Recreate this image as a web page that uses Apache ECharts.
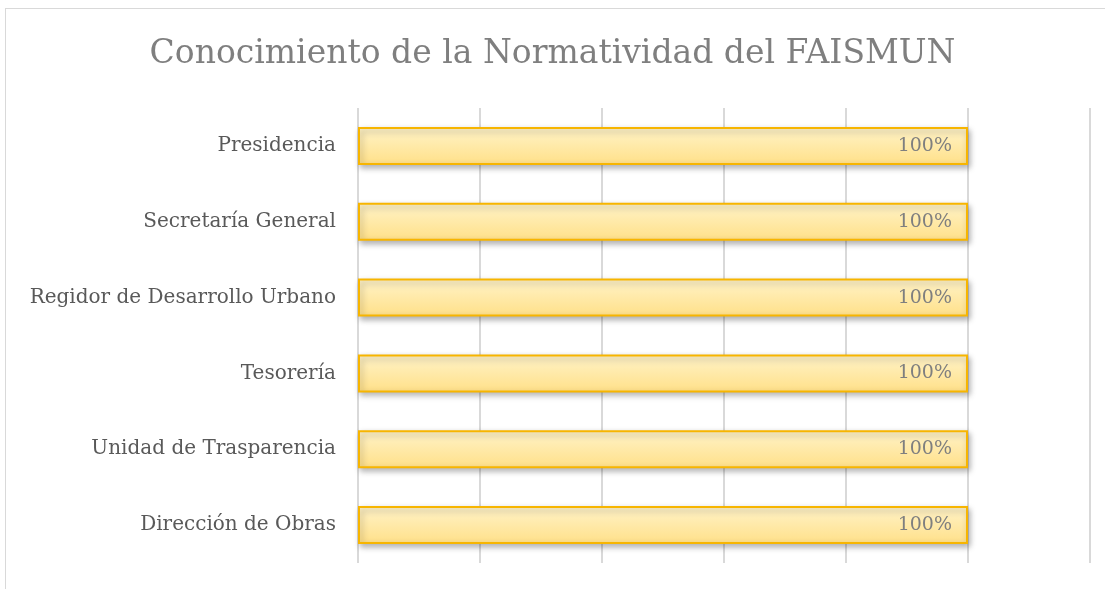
<!DOCTYPE html>
<html>
<head>
<meta charset="utf-8">
<script src="https://cdn.jsdelivr.net/npm/echarts@6/dist/echarts.min.js"></script>
<style>
  html, body { margin: 0; padding: 0; background: #fff; }
  #frame { position: absolute; left: 5px; top: 8px; width: 1110px; height: 585px; border: 1.5px solid #d9d9d9; box-sizing: border-box; }
  #chart { width: 1105px; height: 589px; }
</style>
</head>
<body>
<div id="frame"></div>
<div id="chart"></div>
<script>
// datos
const categories = ['Presidencia', 'Secretaría General', 'Regidor de Desarrollo Urbano', 'Tesorería', 'Unidad de Trasparencia', 'Dirección de Obras'];
const values = [1, 1, 1, 1, 1, 1];

const serif = 'Constantia, "DejaVu Serif", serif';

const chart = echarts.init(document.getElementById('chart'));
chart.setOption({
  animation: false,
  textStyle: { fontFamily: serif },
  title: {
    text: 'Conocimiento de la Normatividad del FAISMUN',
    left: 'center',
    top: 33,
    textStyle: { fontFamily: serif, fontSize: 33, fontWeight: 'normal', color: '#7f7f7f' }
  },
  grid: { left: 358, right: 15, top: 108, bottom: 26, containLabel: false },
  xAxis: {
    type: 'value',
    min: 0,
    max: 1.2,
    interval: 0.2,
    axisLabel: { show: false },
    axisLine: { show: false },
    axisTick: { show: false },
    splitLine: { lineStyle: { color: '#d9d9d9', width: 2 } }
  },
  yAxis: {
    type: 'category',
    data: categories,
    inverse: true,
    axisLine: { show: false },
    axisTick: { show: false },
    axisLabel: { fontFamily: serif, fontSize: 20, color: '#595959', margin: 22 }
  },
  series: [{
    type: 'bar',
    data: values,
    barWidth: 38,
    itemStyle: {
      color: new echarts.graphic.LinearGradient(0, 0, 0, 1, [
        { offset: 0, color: '#fff3c9' },
        { offset: 1, color: '#ffe088' }
      ]),
      borderColor: '#f7b500',
      borderWidth: 2,
      shadowColor: 'rgba(0,0,0,0.3)',
      shadowBlur: 6,
      shadowOffsetX: 2,
      shadowOffsetY: 3
    },
    label: {
      show: true,
      position: 'insideRight',
      distance: 16,
      formatter: p => Math.round(p.value * 100) + '%',
      fontFamily: serif,
      fontSize: 19,
      color: '#7f7f7f'
    }
  }]
});
</script>
</body>
</html>
